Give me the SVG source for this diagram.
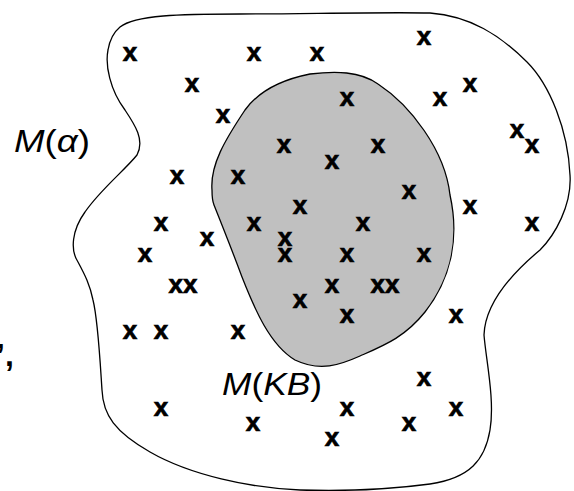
<svg xmlns="http://www.w3.org/2000/svg" width="574" height="491" viewBox="0 0 574 491">
<style>
.x{font-family:"Liberation Sans",Arial,sans-serif;font-weight:bold;font-size:26px;text-anchor:middle;fill:#000;stroke:#000;stroke-width:0.7}
.lbl{font-family:"Liberation Sans",Arial,sans-serif;font-size:32px;fill:#000}
.it{font-style:italic}
.blob{stroke:#000;stroke-width:1.3}
</style>
<rect width="574" height="491" fill="#fff"/>
<g id="outer">
<path class="blob" fill="none" d="M120,27 C135,15 180,14 240,14 C300,14 380,12 430,13 C470,16 500,35 527,62 C550,85 568,130 570,175 C572,205 555,235 540,250 C510,275 485,305 484,335 C486,360 495,400 490,430 C485,460 470,478 430,484 C400,488 360,492 300,490 C250,488 190,475 150,452 C115,432 103,415 102,390 C100,360 98,320 93,300 C90,285 85,275 78,262 C70,250 72,230 85,212 C100,190 125,170 137,155 C145,140 135,125 125,110 C110,90 105,65 108,50 C110,38 114,32 120,27 Z"/>
</g>
<g id="inner">
<path class="blob" fill="#c0c0c0" d="M212,190 C210,165 225,140 245,110 C258,92 280,80 310,74 C335,71 360,71 378,84 C410,105 445,150 450,195 C460,240 450,280 425,312 C405,337 385,345 360,356 C340,365 320,372 295,360 C270,345 255,310 242,277 C232,250 222,225 214,205 C212,200 212,195 212,190 Z"/>
</g>
<g id="points">
<text class="x" x="424" y="45">x</text>
<text class="x" x="130" y="61">x</text>
<text class="x" x="254" y="61">x</text>
<text class="x" x="317" y="61">x</text>
<text class="x" x="192" y="92">x</text>
<text class="x" x="470" y="92">x</text>
<text class="x" x="347" y="106">x</text>
<text class="x" x="440" y="106">x</text>
<text class="x" x="223" y="123">x</text>
<text class="x" x="517" y="138">x</text>
<text class="x" x="532" y="153">x</text>
<text class="x" x="284" y="153">x</text>
<text class="x" x="378" y="153">x</text>
<text class="x" x="332" y="169">x</text>
<text class="x" x="177" y="184">x</text>
<text class="x" x="238" y="184">x</text>
<text class="x" x="409" y="199">x</text>
<text class="x" x="300" y="214">x</text>
<text class="x" x="470" y="214">x</text>
<text class="x" x="161" y="231">x</text>
<text class="x" x="254" y="231">x</text>
<text class="x" x="363" y="231">x</text>
<text class="x" x="532" y="231">x</text>
<text class="x" x="207" y="246">x</text>
<text class="x" x="285" y="246">x</text>
<text class="x" x="285" y="262">x</text>
<text class="x" x="145" y="262">x</text>
<text class="x" x="347" y="262">x</text>
<text class="x" x="424" y="262">x</text>
<text class="x" x="183" y="293">xx</text>
<text class="x" x="332" y="293">x</text>
<text class="x" x="385" y="293">xx</text>
<text class="x" x="300" y="308">x</text>
<text class="x" x="347" y="323">x</text>
<text class="x" x="456" y="323">x</text>
<text class="x" x="130" y="339">x</text>
<text class="x" x="161" y="339">x</text>
<text class="x" x="238" y="339">x</text>
<text class="x" x="424" y="386">x</text>
<text class="x" x="161" y="416">x</text>
<text class="x" x="347" y="416">x</text>
<text class="x" x="456" y="416">x</text>
<text class="x" x="253" y="431">x</text>
<text class="x" x="409" y="431">x</text>
<text class="x" x="332" y="446">x</text>
</g>
<g id="labels">
<text class="lbl" x="14" y="152" textLength="76" lengthAdjust="spacingAndGlyphs"><tspan class="it">M</tspan>(<tspan class="it">α</tspan>)</text>
<text class="lbl" x="222" y="395" textLength="100" lengthAdjust="spacingAndGlyphs"><tspan class="it">M</tspan>(<tspan class="it">KB</tspan>)</text>
<text class="lbl" x="-4" y="366" font-size="24" font-weight="bold">’,</text>
</g>
</svg>
